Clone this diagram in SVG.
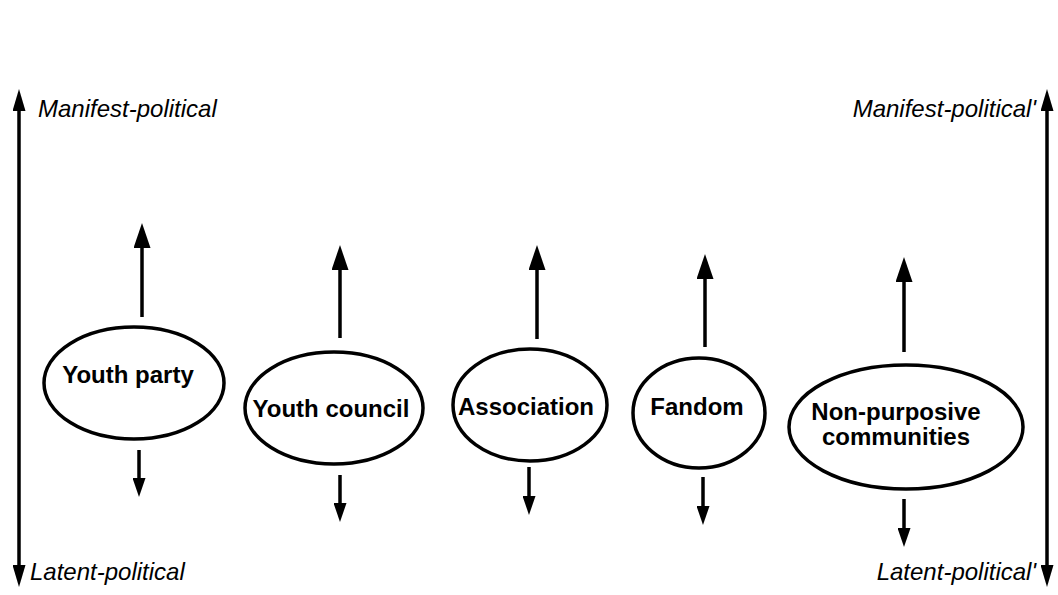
<svg xmlns="http://www.w3.org/2000/svg" width="1058" height="595" viewBox="0 0 1058 595">
<defs>
<marker id="big" markerUnits="userSpaceOnUse" markerWidth="25" markerHeight="17" viewBox="0 0 25 17" refX="0" refY="8.5" orient="auto"><path d="M0,0 L25,8.5 L0,17 z" fill="#000"/></marker>
<marker id="small" markerUnits="userSpaceOnUse" markerWidth="19" markerHeight="13" viewBox="0 0 19 13" refX="0" refY="6.5" orient="auto"><path d="M0,0 L19,6.5 L0,13 z" fill="#000"/></marker>
<marker id="axis" markerUnits="userSpaceOnUse" markerWidth="22" markerHeight="13" viewBox="0 0 22 13" refX="0" refY="6.5" orient="auto-start-reverse"><path d="M0,0 L22,6.5 L0,13 z" fill="#000"/></marker>
</defs>
<style>
.node ellipse{fill:#fff;stroke:#000;stroke-width:3.5}
.lbl{font-family:"Liberation Sans",Arial,sans-serif;font-weight:bold;font-size:24px;fill:#000;text-anchor:middle}
.ax{font-family:"Liberation Sans",Arial,sans-serif;font-style:italic;font-size:24px;fill:#000}
.up{stroke:#000;stroke-width:3.5;marker-end:url(#big)}
.dn{stroke:#000;stroke-width:3.5;marker-end:url(#small)}
.axl{stroke:#000;stroke-width:3.5;marker-start:url(#axis);marker-end:url(#axis)}
</style>
<rect width="1058" height="595" fill="#fff"/>
<g id="connectors">
<line class="axl" x1="19" y1="111" x2="19" y2="565"/>
<line class="axl" x1="1047" y1="111" x2="1047" y2="565"/>
<line class="up" x1="142" y1="317" x2="142" y2="248"/>
<line class="dn" x1="139" y1="450" x2="139" y2="478"/>
<line class="up" x1="340" y1="338" x2="340" y2="270"/>
<line class="dn" x1="340" y1="475" x2="340" y2="503"/>
<line class="up" x1="537" y1="339" x2="537" y2="270"/>
<line class="dn" x1="529" y1="467" x2="529" y2="496"/>
<line class="up" x1="705" y1="347" x2="705" y2="279"/>
<line class="dn" x1="703" y1="477" x2="703" y2="506"/>
<line class="up" x1="904" y1="352" x2="904" y2="282"/>
<line class="dn" x1="904" y1="499" x2="904" y2="528"/>
</g>
<g id="axis-labels">
<text class="ax" x="38" y="117">Manifest-political</text>
<text class="ax" x="30" y="580">Latent-political</text>
<text class="ax" x="1036" y="117" text-anchor="end">Manifest-political'</text>
<text class="ax" x="1036" y="580" text-anchor="end">Latent-political'</text>
</g>
<g id="youth-party" class="node"><ellipse cx="134" cy="383" rx="90" ry="56"/><text class="lbl" x="128" y="383">Youth party</text></g>
<g id="youth-council" class="node"><ellipse cx="334" cy="408" rx="89" ry="56"/><text class="lbl" x="331" y="417">Youth council</text></g>
<g id="association" class="node"><ellipse cx="530" cy="405" rx="77" ry="56"/><text class="lbl" x="526" y="415">Association</text></g>
<g id="fandom" class="node"><ellipse cx="699" cy="413" rx="66" ry="55"/><text class="lbl" x="697" y="415">Fandom</text></g>
<g id="non-purposive" class="node"><ellipse cx="906" cy="427" rx="117" ry="62"/><text class="lbl" x="896" y="420">Non-purposive</text><text class="lbl" x="896" y="445">communities</text></g>
</svg>
